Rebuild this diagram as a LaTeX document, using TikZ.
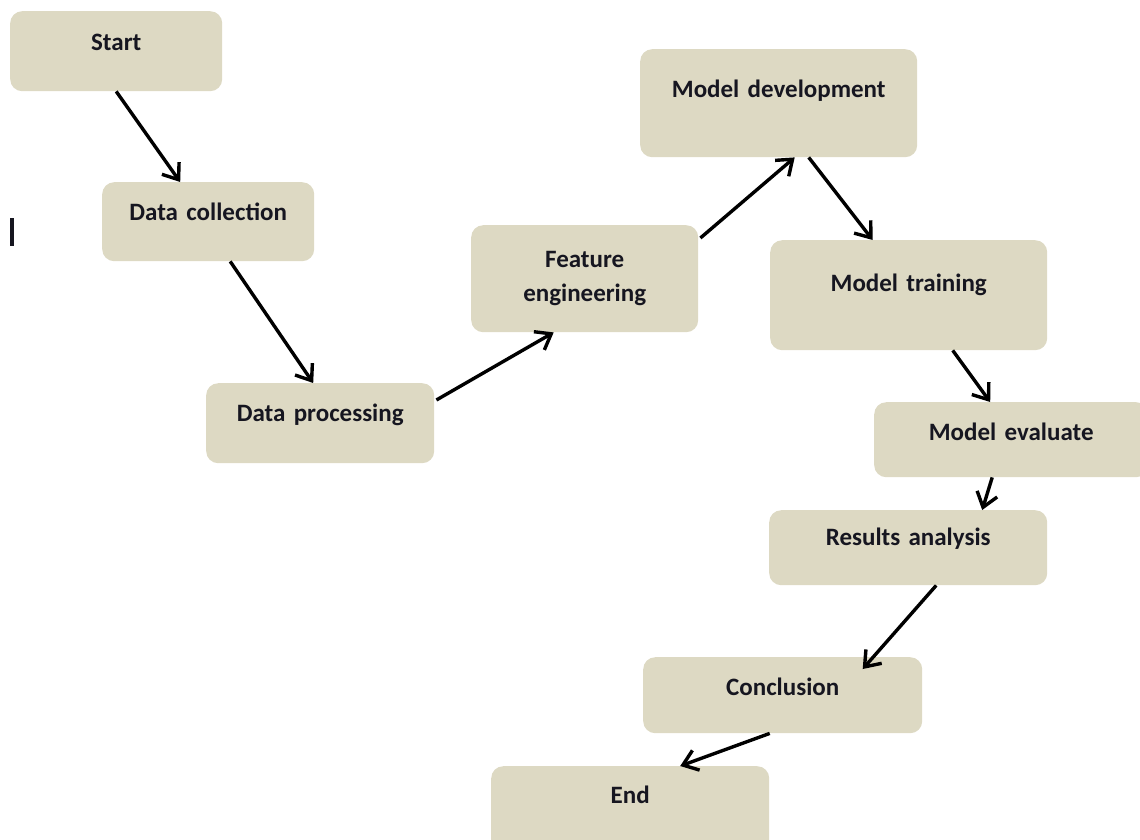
\documentclass[tikz,border=0pt]{standalone}
\usepackage{fontspec}
\setmainfont{Carlito}
\usetikzlibrary{arrows.meta}
\definecolor{boxfill}{HTML}{DDD9C3}
\definecolor{txt}{HTML}{161620}
\begin{document}
\begin{tikzpicture}[x=1pt,y=-1pt,
  box/.style={fill=boxfill, rounded corners=12pt, anchor=north west, inner xsep=0pt, inner ysep=0pt,
    align=center, font=\fontsize{25}{34}\selectfont\bfseries, text=txt},
  arr/.style={draw=black, line width=3.4pt, -{Straight Barb[length=14pt,width=21pt]}}]
\useasboundingbox (0,0) rectangle (1140,839);

\node[box, text width=212pt, text height=39pt, text depth=41pt] (start) at (10,11) {Start};
\node[box, text width=212pt, text height=38pt, text depth=41pt] (dc) at (102,182) {Data collection};
\node[box, text width=228pt, text height=38pt, text depth=42pt] (dp) at (206,383) {Data processing};
\node[box, text width=227pt, text height=42pt, text depth=65pt] (fe) at (471,225) {Feature\\engineering};
\node[box, text width=277pt, text height=48pt, text depth=60pt] (md) at (640,49) {Model development};
\node[box, text width=277pt, text height=51pt, text depth=59pt] (mt) at (770,240) {Model training};
\node[box, text width=274pt, text height=38pt, text depth=37pt] (me) at (874,402) {Model evaluate};
\node[box, text width=278pt, text height=35pt, text depth=40pt] (ra) at (769,510) {Results analysis};
\node[box, text width=279pt, text height=38pt, text depth=38pt] (cc) at (643,657) {Conclusion};
\node[box, text width=278pt, text height=37pt, text depth=80pt] (en) at (491,766) {End};

\fill[txt] (10,218) rectangle (14,246);

\draw[arr] (start.south) -- ([xshift=-28pt]dc.north);
\draw[arr] ([xshift=22pt]dc.south) -- ([xshift=-7pt]dp.north);
\draw[arr] ([xshift=2pt,yshift=-17pt]dp.north east) -- ([xshift=-31pt]fe.south);
\draw[arr] ([xshift=2pt,yshift=-13pt]fe.north east) -- ([xshift=16pt]md.south);
\draw[arr] ([xshift=30pt]md.south) -- ([xshift=-36pt]mt.north);
\draw[arr] ([xshift=44pt]mt.south) -- ([xshift=-21pt]me.north);
\draw[arr] ([xshift=-19pt]me.south) -- ([xshift=74pt]ra.north);
\draw[arr] ([xshift=28pt]ra.south) -- ([xshift=80pt,yshift=-12pt]cc.north);
\draw[arr] ([xshift=-13pt]cc.south) -- ([xshift=50pt]en.north);
\end{tikzpicture}
\end{document}
